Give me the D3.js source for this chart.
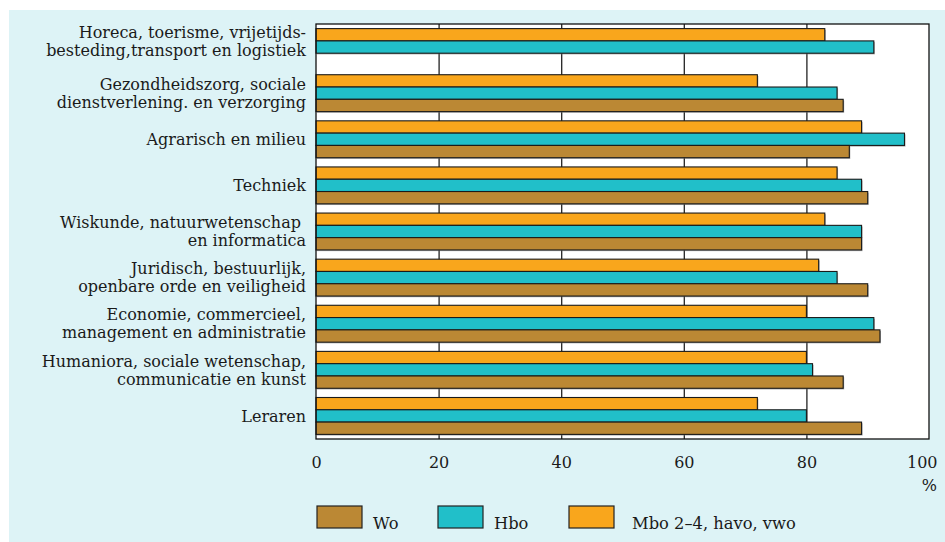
<!DOCTYPE html>
<html>
<head>
<meta charset="utf-8">
<script src="https://cdn.jsdelivr.net/npm/d3@7"></script>
<style>
  body { margin: 0; background: #fff; }
  svg text { font-family: "DejaVu Serif", serif; fill: #1a1a1a; }
</style>
</head>
<body>
<svg width="945" height="542"></svg>
<script>
// categories, top to bottom
var categories = [
  "Horeca, toerisme, vrijetijds-|besteding,transport en logistiek",
  "Gezondheidszorg, sociale|dienstverlening. en verzorging",
  "Agrarisch en milieu",
  "Techniek",
  "Wiskunde, natuurwetenschap |en informatica",
  "Juridisch, bestuurlijk,|openbare orde en veiligheid",
  "Economie, commercieel,|management en administratie",
  "Humaniora, sociale wetenschap,|communicatie en kunst",
  "Leraren"
];
var mboValues = [83, 72, 89, 85, 83, 82, 80, 80, 72];
var hboValues = [91, 85, 96, 89, 89, 85, 91, 81, 80];
var woValues  = [null, 86, 87, 90, 89, 90, 92, 86, 89];
var xTicks = [0, 20, 40, 60, 80, 100];
var seriesNames = ["Wo", "Hbo", "Mbo 2\u20134, havo, vwo"];
var seriesColors = ["#bb8834", "#21bfc9", "#f9a61c"];

var svg = d3.select("svg");

// light cyan panel
svg.append("rect")
  .attr("x", 9).attr("y", 10)
  .attr("width", 936).attr("height", 532)
  .attr("fill", "#ddf3f6");

var plotLeft = 316, plotRight = 929, plotTop = 24, plotBottom = 439;

var x = d3.scaleLinear().domain([0, 100]).range([plotLeft, plotRight]);
var y = d3.scaleBand().domain(categories).range([plotTop, plotBottom])
  .paddingInner(0.2).paddingOuter(0.1);
var keys = ["mbo", "hbo", "wo"];
var yInner = d3.scaleBand().domain(keys).range([0, y.bandwidth()]);
var colorOf = { wo: seriesColors[0], hbo: seriesColors[1], mbo: seriesColors[2] };

// plot area
svg.append("rect")
  .attr("x", plotLeft).attr("y", plotTop)
  .attr("width", plotRight - plotLeft).attr("height", plotBottom - plotTop)
  .attr("fill", "#fff");

// grid lines
var grid = svg.append("g")
  .attr("transform", "translate(0," + plotBottom + ")")
  .call(d3.axisBottom(x).tickValues([20, 40, 60, 80]).tickSize(-(plotBottom - plotTop)).tickFormat(""));
grid.select(".domain").remove();
grid.selectAll("line").attr("stroke", "#222").attr("stroke-width", 1.3);

// bars
var rows = categories.map(function(c, i) {
  return { cat: c, mbo: mboValues[i], hbo: hboValues[i], wo: woValues[i] };
});
var bars = [];
rows.forEach(function(r) {
  keys.forEach(function(k) {
    if (r[k] != null) bars.push({ cat: r.cat, key: k, value: r[k] });
  });
});

var g = svg.append("g");
g.selectAll("rect.shadow")
  .data(bars)
  .enter().append("rect")
    .attr("class", "shadow")
    .attr("x", x(0) + 1)
    .attr("y", function(d) { return y(d.cat) + yInner(d.key) + 1.2; })
    .attr("width", function(d) { return x(d.value) - x(0); })
    .attr("height", yInner.bandwidth())
    .attr("fill", "#777")
    .attr("opacity", 0.6);

g.selectAll("rect.bar")
  .data(bars)
  .enter().append("rect")
    .attr("class", "bar")
    .attr("x", x(0))
    .attr("y", function(d) { return y(d.cat) + yInner(d.key); })
    .attr("width", function(d) { return x(d.value) - x(0); })
    .attr("height", yInner.bandwidth())
    .attr("fill", function(d) { return colorOf[d.key]; })
    .attr("stroke", "#1a1a1a")
    .attr("stroke-width", 1.1);

// plot border
svg.append("rect")
  .attr("x", plotLeft).attr("y", plotTop)
  .attr("width", plotRight - plotLeft).attr("height", plotBottom - plotTop)
  .attr("fill", "none").attr("stroke", "#111").attr("stroke-width", 1.3);

// category labels, centred on the bars present
svg.append("g").selectAll("text")
  .data(rows)
  .enter().append("text")
    .attr("text-anchor", "end")
    .style("font-size", "16px")
    .each(function(d) {
      var present = keys.filter(function(k) { return d[k] != null; });
      var y0 = y(d.cat) + yInner(present[0]);
      var y1 = y(d.cat) + yInner(present[present.length - 1]) + yInner.bandwidth();
      var mid = (y0 + y1) / 2;
      var lines = d.cat.split("|");
      var lh = 18;
      var t = d3.select(this);
      lines.forEach(function(line, i) {
        t.append("tspan")
          .attr("x", 306)
          .attr("y", mid + (i - (lines.length - 1) / 2) * lh)
          .attr("dy", "0.36em")
          .text(line);
      });
    });

// x axis labels
var ax = svg.append("g")
  .attr("transform", "translate(0," + plotBottom + ")")
  .call(d3.axisBottom(x).tickValues(xTicks).tickSize(0).tickPadding(18));
ax.select(".domain").remove();
ax.selectAll("text")
  .style("font-size", "16px")
  .attr("fill", "#1a1a1a");
ax.selectAll(".tick").filter(function(d) { return d === 100; }).select("text")
  .attr("text-anchor", "end").attr("dx", 8);

svg.append("text")
  .attr("x", 937).attr("y", 491)
  .attr("text-anchor", "end")
  .style("font-size", "16px")
  .text("%");

// legend
var legendX = [317, 438, 569];
var legend = svg.append("g").selectAll("g")
  .data(seriesNames)
  .enter().append("g")
    .attr("transform", function(d, i) { return "translate(" + legendX[i] + ",506)"; });
legend.append("rect")
  .attr("width", 45).attr("height", 22)
  .attr("fill", function(d, i) { return seriesColors[i]; })
  .attr("stroke", "#222").attr("stroke-width", 1.2);
legend.append("text")
  .attr("x", function(d, i) { return i === 2 ? 63 : 56; })
  .attr("y", 23)
  .style("font-size", "16.3px")
  .text(function(d) { return d; });
</script>
</body>
</html>
